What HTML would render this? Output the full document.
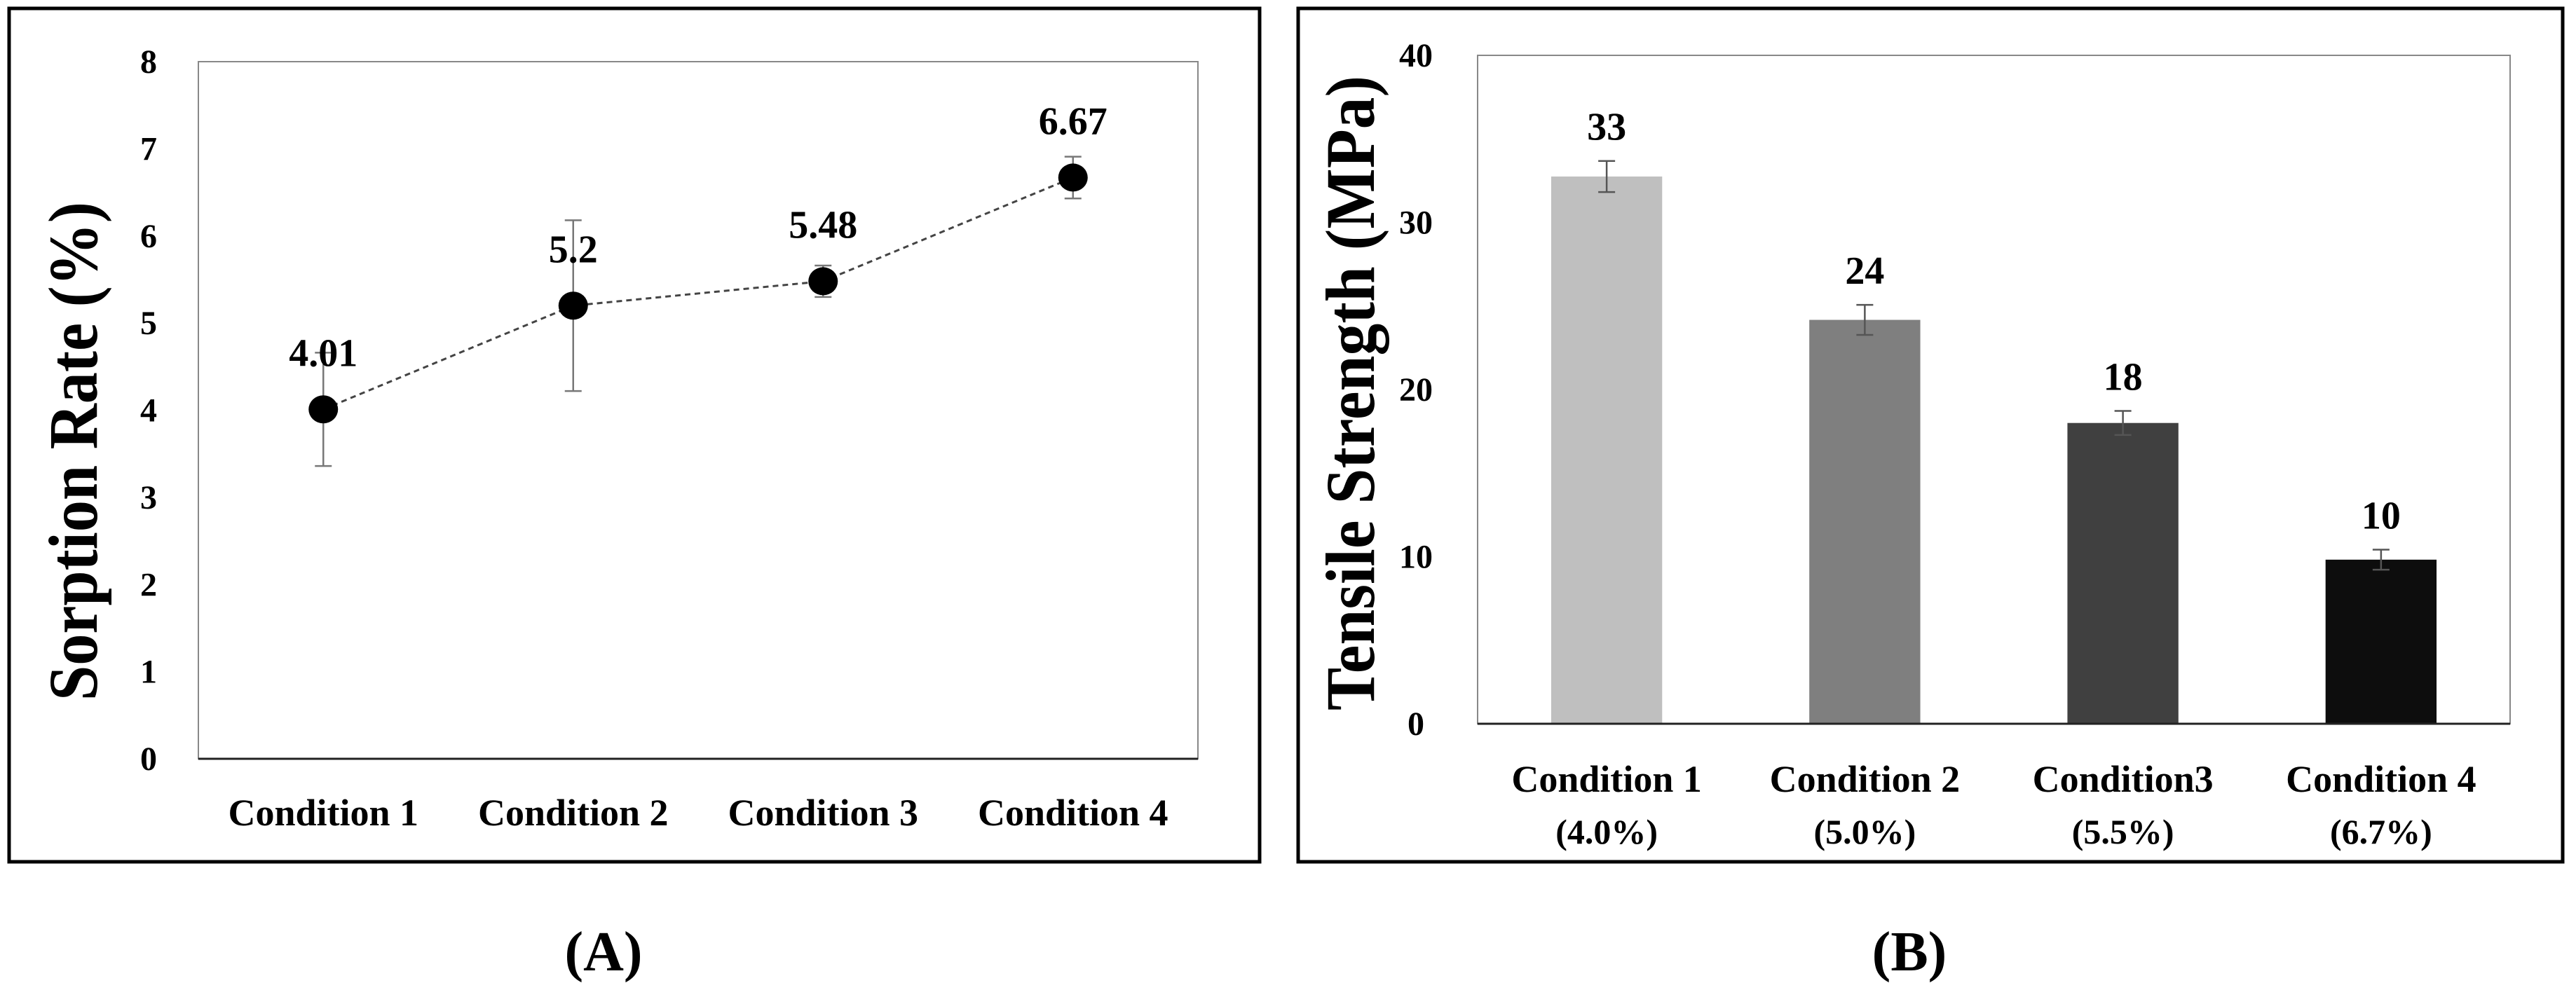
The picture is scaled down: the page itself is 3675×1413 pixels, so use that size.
<!DOCTYPE html>
<html><head><meta charset="utf-8"><style>
html,body{margin:0;padding:0;background:#fff;}
svg{display:block;font-family:"Liberation Serif",serif;font-weight:bold;}
</style></head><body>
<svg id="fig" width="3675" height="1413" viewBox="0 0 3675 1413" xmlns="http://www.w3.org/2000/svg">
<rect x="13" y="12" width="1784" height="1218" fill="#fff" stroke="#000" stroke-width="5"/>
<rect x="1852" y="12" width="1804" height="1218" fill="#fff" stroke="#000" stroke-width="5"/>
<g id="chartA"></g>
<g id="chartB"></g>
<text x="861" y="1385" font-size="80" text-anchor="middle">(A)</text>
<text x="2724" y="1385" font-size="80" text-anchor="middle">(B)</text>
</svg>
<script>
const NS="http://www.w3.org/2000/svg";
// Chart A data
const catsA=["Condition 1","Condition 2","Condition 3","Condition 4"];
const valsA=[4.01,5.2,5.48,6.67];
const errA=[0.65,0.98,0.18,0.24];
const labelsA=["4.01","5.2","5.48","6.67"];
const ticksA=[0,1,2,3,4,5,6,7,8];
// Chart B data
const catsB=["Condition 1","Condition 2","Condition3","Condition 4"];
const subB=["(4.0%)","(5.0%)","(5.5%)","(6.7%)"];
const valsB=[32.75,24.17,18.0,9.82];
const errB=[0.93,0.9,0.72,0.6];
const labelsB=["33","24","18","10"];
const ticksB=[0,10,20,30,40];
const colorsB=["#bfbfbf","#7f7f7f","#404040","#0d0d0d"];

function mk(parent,tag,attrs,text){const e=document.createElementNS(NS,tag);for(const k in attrs)e.setAttribute(k,attrs[k]);if(text!==undefined)e.textContent=text;parent.appendChild(e);return e;}

// Chart A
(function(){
const g=document.getElementById('chartA');
const L=283,R=1709,T=88,B=1083,max=8;
const y=v=>B-(v/max)*(B-T);
const bw=(R-L)/catsA.length;
const x=i=>L+bw*(i+0.5);
let e=mk(g,'rect',{x:L,y:T,width:R-L,height:B-T,fill:'none',stroke:'#888','stroke-width':2});

e=mk(g,'line',{x1:L,y1:B,x2:R,y2:B,stroke:'#222','stroke-width':3});

ticksA.forEach(t=>{const tl=mk(g,'text',{x:212,y:y(t)+16,'font-size':48,'text-anchor':'middle'},String(t));
});
catsA.forEach((c,i)=>{const tl=mk(g,'text',{x:x(i),y:1178,'font-size':54,'text-anchor':'middle'},c);
});
const pts=valsA.map((v,i)=>x(i)+','+y(v)).join(' ');
e=mk(g,'polyline',{points:pts,fill:'none',stroke:'#444','stroke-width':3,'stroke-dasharray':'8,6'});

valsA.forEach((v,i)=>{
 const eb=mk(g,'path',{d:`M${x(i)},${y(v-errA[i])}V${y(v+errA[i])}M${x(i)-12},${y(v-errA[i])}h24M${x(i)-12},${y(v+errA[i])}h24`,stroke:'#777','stroke-width':2.5,fill:'none'});
 
 const p=mk(g,'ellipse',{cx:x(i),cy:y(v),rx:21,ry:20,fill:'#000'});
 
 const lb=mk(g,'text',{x:x(i),y:y(v)-62,'font-size':56,'text-anchor':'middle'},labelsA[i]);
 
});
const yt=mk(g,'text',{x:0,y:0,'font-size':100,'text-anchor':'middle',transform:'translate(138,644) rotate(-90)',textLength:712,lengthAdjust:'spacingAndGlyphs'},'Sorption Rate (%)');

})();

// Chart B
(function(){
const g=document.getElementById('chartB');
const L=2108,R=3581,T=79,B=1033,max=40;
const y=v=>B-(v/max)*(B-T);
const bw=(R-L)/catsB.length;
const x=i=>L+bw*(i+0.5);
const w=bw*0.43;
let e=mk(g,'rect',{x:L,y:T,width:R-L,height:B-T,fill:'none',stroke:'#888','stroke-width':2});

ticksB.forEach(t=>{const tl=mk(g,'text',{x:2020,y:y(t)+16,'font-size':48,'text-anchor':'middle'},String(t));
});
valsB.forEach((v,i)=>{
 const b=mk(g,'rect',{x:x(i)-w/2,y:y(v),width:w,height:B-y(v),fill:colorsB[i]});
 
 const eb=mk(g,'path',{d:`M${x(i)},${y(v-errB[i])}V${y(v+errB[i])}M${x(i)-12},${y(v-errB[i])}h24M${x(i)-12},${y(v+errB[i])}h24`,stroke:'#555','stroke-width':2.5,fill:'none'});
 
 const lb=mk(g,'text',{x:x(i),y:y(v+errB[i])-30,'font-size':56,'text-anchor':'middle'},labelsB[i]);
 
 const c1=mk(g,'text',{x:x(i),y:1130,'font-size':54,'text-anchor':'middle'},catsB[i]);
 
 const c2=mk(g,'text',{x:x(i),y:1204,'font-size':50,'text-anchor':'middle'},subB[i]);
 
});
e=mk(g,'line',{x1:L,y1:B,x2:R,y2:B,stroke:'#222','stroke-width':3});

const yt=mk(g,'text',{x:0,y:0,'font-size':100,'text-anchor':'middle',transform:'translate(1960,561) rotate(-90)',textLength:906,lengthAdjust:'spacingAndGlyphs'},'Tensile Strength (MPa)');

})();
</script>
</body></html>
